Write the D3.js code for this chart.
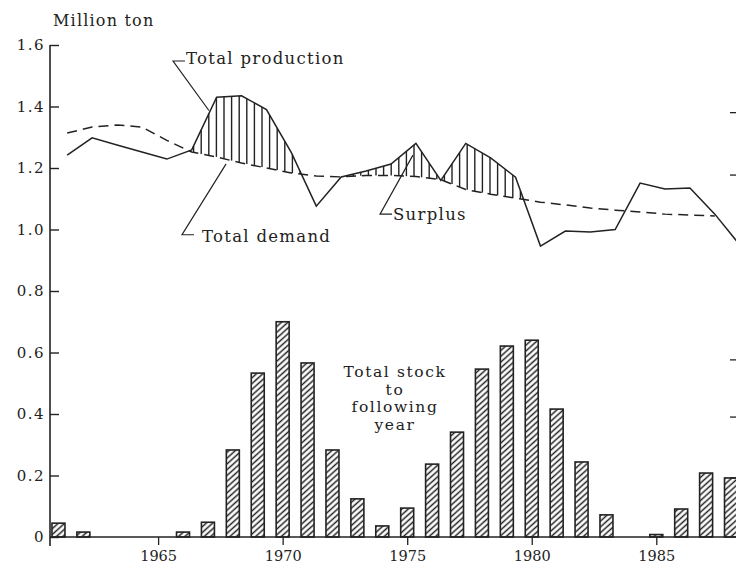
<!DOCTYPE html>
<html>
<head>
<meta charset="utf-8">
<script src="https://cdn.jsdelivr.net/npm/d3@7"></script>
<style>
  html, body { margin: 0; padding: 0; background: #fff; }
  svg { display: block; font-family: "DejaVu Serif", "Liberation Serif", serif; }
</style>
</head>
<body>
<svg id="chart" width="736" height="574"></svg>
<script>
// Years covered by the stock bars and the supply/demand lines
const years = d3.range(1961, 1989);

// Total stock carried to the following year (million ton)
const stock = [0.045, 0.016, 0, 0, 0, 0.016, 0.048, 0.283, 0.533, 0.70,
               0.566, 0.283, 0.124, 0.036, 0.094, 0.237, 0.341, 0.546, 0.621, 0.64,
               0.416, 0.244, 0.072, 0, 0.008, 0.091, 0.208, 0.192];

// Total production (million ton)
const production = [1.242, 1.298, 1.275, 1.252, 1.229, 1.259, 1.43, 1.435, 1.39, 1.25,
                    1.076, 1.171, 1.19, 1.213, 1.28, 1.16, 1.28, 1.233, 1.17, 0.946,
                    0.995, 0.992, 1.0, 1.151, 1.132, 1.135, 1.05, 0.95];

// Total demand (million ton), 1961-1987
const demand = [1.314, 1.333, 1.34, 1.333, 1.29, 1.252, 1.236, 1.216, 1.2, 1.184,
                1.174, 1.171, 1.176, 1.176, 1.172, 1.162, 1.13, 1.115, 1.102, 1.089,
                1.08, 1.07, 1.063, 1.057, 1.05, 1.047, 1.044];

const yTicks = [0, 0.2, 0.4, 0.6, 0.8, 1.0, 1.2, 1.4, 1.6];
const xTicks = [1965, 1970, 1975, 1980, 1985];
// Ticks of the partly visible right-hand axis, in left-axis units
const rightTicks = [1.38, 1.177, 0.576, 0.39, 0.192];

// Line series are plotted at the crop-year position
const lineOffset = 0.35;

const ink = "#222";
const svg = d3.select("#chart");
const W = 736;

const x = d3.scaleLinear().domain([1960.66, 1988.2]).range([50, 736]);
const y = d3.scaleLinear().domain([0, 1.6]).range([537, 45]);

const prodPts = years.map((yr, i) => [yr + lineOffset, production[i]]);
const demPts = demand.map((v, i) => [years[i] + lineOffset, v]);

function interp(pts, t) {
  if (t < pts[0][0] || t > pts[pts.length - 1][0]) return null;
  for (let i = 1; i < pts.length; i++) {
    if (t <= pts[i][0]) {
      const [t0, v0] = pts[i - 1], [t1, v1] = pts[i];
      return v0 + (v1 - v0) * (t - t0) / (t1 - t0);
    }
  }
  return null;
}

// Patterns
const defs = svg.append("defs");
defs.append("pattern")
  .attr("id", "barHatch")
  .attr("patternUnits", "userSpaceOnUse")
  .attr("width", 10).attr("height", 4.3)
  .attr("patternTransform", "rotate(-42)")
  .append("line")
  .attr("x1", 0).attr("x2", 10).attr("y1", 2.15).attr("y2", 2.15)
  .attr("stroke", ink).attr("stroke-width", 1.5);

defs.append("clipPath").attr("id", "plotClip")
  .append("rect").attr("x", 50).attr("y", 0).attr("width", W - 50).attr("height", 574);

// Stock bars
const barW = 13;
svg.append("g").selectAll("rect")
  .data(years.map((yr, i) => ({ yr, v: stock[i] })).filter(d => d.v > 0))
  .join("rect")
  .attr("x", d => x(d.yr) - barW / 2)
  .attr("y", d => y(d.v))
  .attr("width", barW)
  .attr("height", d => y(0) - y(d.v))
  .attr("fill", "url(#barHatch)")
  .attr("stroke", ink)
  .attr("stroke-width", 1.6);

// Surplus hatch between production and demand
const hatch = [];
for (let px = 186; px < 530; px += 7.6) {
  const t = x.invert(px);
  const p = interp(prodPts, t), d = interp(demPts, t);
  if (p != null && d != null && p - d > 0.004) hatch.push({ t, p, d });
}
svg.append("g").selectAll("line")
  .data(hatch)
  .join("line")
  .attr("x1", d => x(d.t)).attr("x2", d => x(d.t))
  .attr("y1", d => y(d.d)).attr("y2", d => y(d.p))
  .attr("stroke", ink).attr("stroke-width", 1.4);

const line = d3.line().x(d => x(d[0])).y(d => y(d[1]));
const lines = svg.append("g").attr("clip-path", "url(#plotClip)");
lines.append("path")
  .attr("d", line(demPts))
  .attr("fill", "none").attr("stroke", ink)
  .attr("stroke-width", 1.5).attr("stroke-dasharray", "10,6");
lines.append("path")
  .attr("d", line(prodPts))
  .attr("fill", "none").attr("stroke", ink)
  .attr("stroke-width", 1.5);

// Axes
const yAxis = svg.append("g")
  .attr("transform", `translate(${x.range()[0]},0)`)
  .call(d3.axisLeft(y).tickValues(yTicks)
    .tickSizeInner(-9).tickSizeOuter(0).tickPadding(5)
    .tickFormat(d => d === 0 ? "0" : d3.format(".1f")(d)));
yAxis.select(".domain").remove();
yAxis.selectAll(".tick line").attr("stroke", ink).attr("stroke-width", 1.4);
yAxis.selectAll(".tick text")
  .attr("fill", ink).attr("font-size", null).attr("font-family", null)
  .style("font-size", "15px")
  .style("font-family", "'DejaVu Serif', serif").style("letter-spacing", "1.5px");

svg.append("line")
  .attr("x1", x.range()[0]).attr("x2", x.range()[0])
  .attr("y1", y(1.6)).attr("y2", y(0) + 9)
  .attr("stroke", ink).attr("stroke-width", 1.6);

const xAxis = svg.append("g")
  .attr("transform", `translate(0,${y(0)})`)
  .call(d3.axisBottom(x).tickValues(xTicks)
    .tickSizeInner(8).tickSizeOuter(0).tickPadding(6)
    .tickFormat(d3.format("d")));
xAxis.select(".domain").remove();
xAxis.selectAll(".tick line").attr("stroke", ink).attr("stroke-width", 1.3);
xAxis.selectAll(".tick text")
  .attr("fill", ink)
  .style("font-size", "14.5px")
  .style("font-family", "'DejaVu Serif', serif");

svg.append("line")
  .attr("x1", x.range()[0]).attr("x2", W)
  .attr("y1", y(0)).attr("y2", y(0))
  .attr("stroke", ink).attr("stroke-width", 1.6);

// Right-hand axis ticks at the edge
svg.append("g").selectAll("line")
  .data(rightTicks)
  .join("line")
  .attr("x1", W - 6).attr("x2", W)
  .attr("y1", d => y(d)).attr("y2", d => y(d))
  .attr("stroke", ink).attr("stroke-width", 1.3);

// Axis unit
svg.append("text")
  .attr("x", 53).attr("y", 26)
  .attr("fill", ink)
  .style("font-size", "16px").style("letter-spacing", "1.2px")
  .text("Million ton");

// Callouts: text anchor, elbow and pointer tip in data coordinates
const callouts = [
  { text: "Total production", tx: 1966.12, ty: 1.538, ex: 1965.6, ey: 1.548,
    px: 1967.04, py: interp(prodPts, 1967.04) + 0.01 },
  { text: "Total demand", tx: 1966.76, ty: 0.959, ex: 1965.96, ey: 0.983,
    px: 1967.73, py: interp(demPts, 1967.73) - 0.015 },
  { text: "Surplus", tx: 1974.43, ty: 1.031, ex: 1973.91, ey: 1.05,
    px: 1975.23, py: 1.242 }
];
const co = svg.append("g");
callouts.forEach(c => {
  co.append("path")
    .attr("d", `M${x(c.ex) + 12},${y(c.ey)}H${x(c.ex)}L${x(c.px)},${y(c.py)}`)
    .attr("fill", "none").attr("stroke", ink).attr("stroke-width", 1.2);
  co.append("text")
    .attr("x", x(c.tx)).attr("y", y(c.ty))
    .attr("fill", ink)
    .style("font-size", "16.5px").style("letter-spacing", "1.3px")
    .text(c.text);
});

// Stock label
const stockLabel = ["Total stock", "to", "following", "year"];
const stockLabelY = [0.521, 0.463, 0.405, 0.347];
svg.append("g").selectAll("text")
  .data(stockLabel)
  .join("text")
  .attr("x", x(1974.51))
  .attr("y", (d, i) => y(stockLabelY[i]))
  .attr("text-anchor", "middle")
  .attr("fill", ink)
  .style("font-size", "15.5px").style("letter-spacing", "1.6px")
  .text(d => d);
</script>
</body>
</html>
